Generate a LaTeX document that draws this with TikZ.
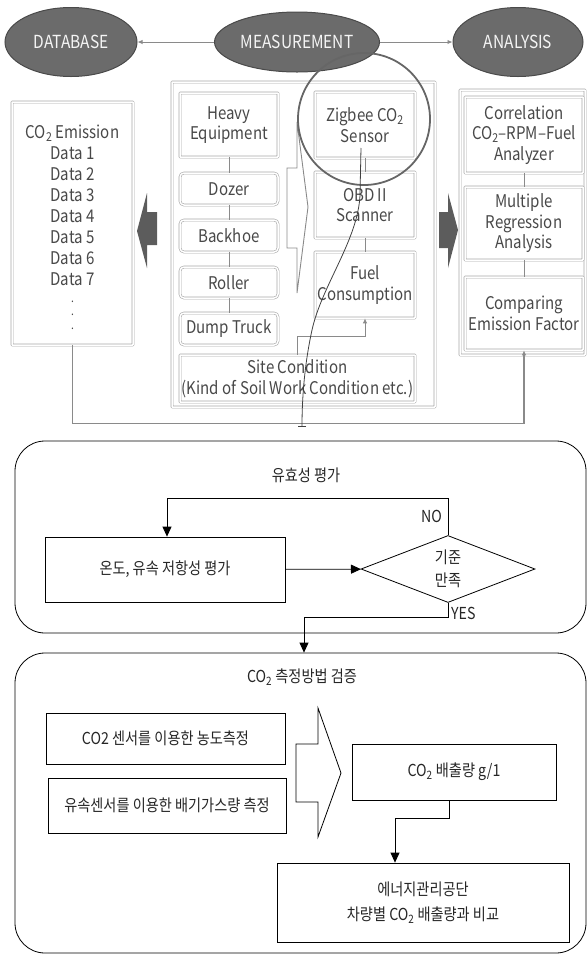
\documentclass[tikz,border=0pt]{standalone}
\usepackage{fontspec}
\setmainfont{Noto Sans CJK KR}[FakeStretch=0.86]
\usetikzlibrary{shapes.geometric,arrows.meta}

\definecolor{ovalfill}{HTML}{6B6B6B}
\definecolor{ovaledge}{HTML}{4A4A4A}
\definecolor{framegray}{HTML}{A8A8A8}
\definecolor{linegray}{HTML}{8A8A8A}
\definecolor{textgray}{HTML}{484848}
\definecolor{blockfill}{HTML}{5C5C5C}
\definecolor{lensgray}{HTML}{666666}

\newcommand{\ovalfont}{\fontsize{18}{22}\selectfont}
\newcommand{\eqfont}{\fontsize{17.5}{20.5}\selectfont}
\newcommand{\hanfont}{\fontsize{16.5}{23}\selectfont}

\tikzset{
  oval/.style={ellipse,draw=ovaledge,line width=1pt,fill=ovalfill,text=white!92!gray,inner sep=0pt,font=\ovalfont},
  frame/.style={draw=framegray,double=white,double distance=1.5pt,line width=0.6pt,rounded corners=0.5pt,inner sep=0pt,align=center,text=textgray,font=\eqfont},
  roundframe/.style={frame,rounded corners=4pt},
  boxtext/.style={inner sep=0pt,align=center,text=textgray,font=\eqfont},
  dotstext/.style={inner sep=0pt,align=center,text=textgray,font=\fontsize{12}{13.5}\selectfont},
  gline/.style={draw=linegray,line width=0.9pt},
  garrow/.style={gline,-{Latex[length=5pt,width=4.5pt]}},
  kbox/.style={draw,line width=0.8pt,inner sep=0pt,align=center,text=black!85,font=\hanfont},
  kpanel/.style={draw,line width=0.8pt,rounded corners=30pt},
  karrow/.style={line width=0.8pt,-{Triangle[length=10pt,width=9pt]}},
  ktext/.style={font=\hanfont,text=black!85,inner sep=0pt}
}

\begin{document}
\begin{tikzpicture}[x=1pt,y=-1pt]
\useasboundingbox (0,0) rectangle (587,954);

\node[oval,minimum width=132,minimum height=69] (db) at (71,42) {DATABASE};
\node[oval,minimum width=165,minimum height=60] (meas) at (297,42) {MEASUREMENT};
\node[oval,minimum width=130,minimum height=69] (ana) at (518,42) {ANALYSIS};
\draw[garrow] (meas) -- (db);
\draw[garrow] (meas) -- (ana);

\node[frame,minimum width=121,minimum height=243] (data) at (72.5,223.5) {};
\node[boxtext,font=\fontsize{17.5}{21}\selectfont] (datatext) at (72.5,205) {CO\textsubscript{2} Emission\\Data 1\\Data 2\\Data 3\\Data 4\\Data 5\\Data 6\\Data 7};
\node[dotstext] (datadots) at (72.5,315) {.\\.\\.};

\node[frame,minimum width=263,minimum height=325] (cont) at (303.5,244.5) {};
\node[frame,minimum width=98,minimum height=64] (heavy) at (229,125) {Heavy\\Equipment};
\node[roundframe,minimum width=98,minimum height=32] (dozer) at (229,189) {Dozer};
\node[roundframe,minimum width=98,minimum height=32] (backhoe) at (229,236) {Backhoe};
\node[roundframe,minimum width=98,minimum height=31] (roller) at (229,282.5) {Roller};
\node[roundframe,minimum width=98,minimum height=32] (dump) at (229,329) {Dump Truck};
\draw[gline] (heavy) -- (dozer);
\draw[gline] (dozer) -- (backhoe);
\draw[gline] (backhoe) -- (roller);
\draw[gline] (roller) -- (dump);

\node[frame,minimum width=100,minimum height=66] (zig) at (365,125) {Zigbee CO\textsubscript{2}\\Sensor};
\node[frame,minimum width=100,minimum height=66] (obd) at (365,205) {OBD II\\Scanner};
\node[frame,minimum width=100,minimum height=66] (fuel) at (365,285) {Fuel\\Consumption};
\draw[gline] (zig) -- (obd);
\draw[gline] (obd) -- (fuel);

\node[frame,minimum width=235,minimum height=47] (site) at (297.5,378.5) {Site Condition\\(Kind of Soil Work Condition etc.)};
\draw[garrow] (site.north) -- ++(0,-18) -| (fuel.south);

\draw[gline] (287,168) -- (297,168) -- (297,122) -- (308,207) -- (297,293) -- (297,248) -- (287,248) -- cycle;

\node[frame,minimum width=125,minimum height=265] (anaframe) at (522.5,222.5) {};
\node[frame,minimum width=118,minimum height=76] (corr) at (524,135) {Correlation\\CO\textsubscript{2}--RPM--Fuel\\Analyzer};
\node[frame,minimum width=118,minimum height=73] (mult) at (524,223.5) {Multiple\\Regression\\Analysis};
\node[frame,minimum width=118,minimum height=73] (comp) at (524,313.5) {Comparing\\Emission Factor};
\draw[gline] (corr) -- (mult);
\draw[gline] (mult) -- (comp);

\fill[blockfill] (157,212) -- (147,212) -- (147,193) -- (137,231) -- (147,268) -- (147,245) -- (157,245) -- cycle;
\fill[blockfill] (439,212) -- (448,212) -- (448,193) -- (458,230) -- (448,268) -- (448,248) -- (439,248) -- cycle;

\draw[gline,line width=1.2pt,-{Latex[length=5pt,width=4.5pt]}] (data.south) -- ++(0,78) -| (comp.south);

\draw[lensgray,line width=1.8pt] (364,119) circle[radius=66pt];
\draw[black!75,line width=0.8pt,-{Bar[width=8pt]}] (361,148) -- (360,195) .. controls (358,240) and (322,285) .. (312,330) .. controls (305,362) and (302,395) .. (302,427);

\node[kpanel,minimum width=571,minimum height=192] (valid) at (300.5,537) {};
\node[ktext] (validtitle) at (306,475) {유효성 평가};
\node[kbox,minimum width=240,minimum height=65] (eval) at (165,569.5) {온도, 유속 저항성 평가};
\node[kbox,diamond,aspect=2.6,minimum width=174,minimum height=67] (crit) at (448,569) {기준\\만족};
\draw[karrow] (eval) -- (crit);
\draw[karrow] (crit.north) -- ++(0,-37) -| ([xshift=2pt]eval.north);
\node[ktext,anchor=east] (no) at (442,516) {NO};

\node[kpanel,minimum width=571,minimum height=300] (meth) at (300.5,803) {};
\draw[karrow] (crit.south) -- ++(0,14) -| ([xshift=3.5pt]meth.north);
\node[ktext,anchor=west] (yes) at (451,613) {YES};

\node[ktext] (methtitle) at (302,677) {CO\textsubscript{2} 측정방법 검증};
\node[kbox,minimum width=239,minimum height=51] (conc) at (165.5,738.5) {CO2 센서를 이용한 농도측정};
\node[kbox,minimum width=238,minimum height=55] (flow) at (167,805.5) {유속센서를 이용한 배기가스량 측정};
\draw[line width=0.8pt] (296,744) -- (318,744) -- (318,708) -- (341,773) -- (318,837) -- (318,802) -- (296,802) -- cycle;
\node[kbox,minimum width=204,minimum height=56] (emis) at (454,772) {CO\textsubscript{2} 배출량 g/1};
\node[kbox,minimum width=292,minimum height=79] (kemco) at (423,902.5) {에너지관리공단\\[2pt]차량별 CO\textsubscript{2} 배출량과 비교};
\draw[karrow] ([xshift=-5pt]emis.south) -- ++(0,18) -| ([xshift=-28pt]kemco.north);

\end{tikzpicture}
\end{document}
